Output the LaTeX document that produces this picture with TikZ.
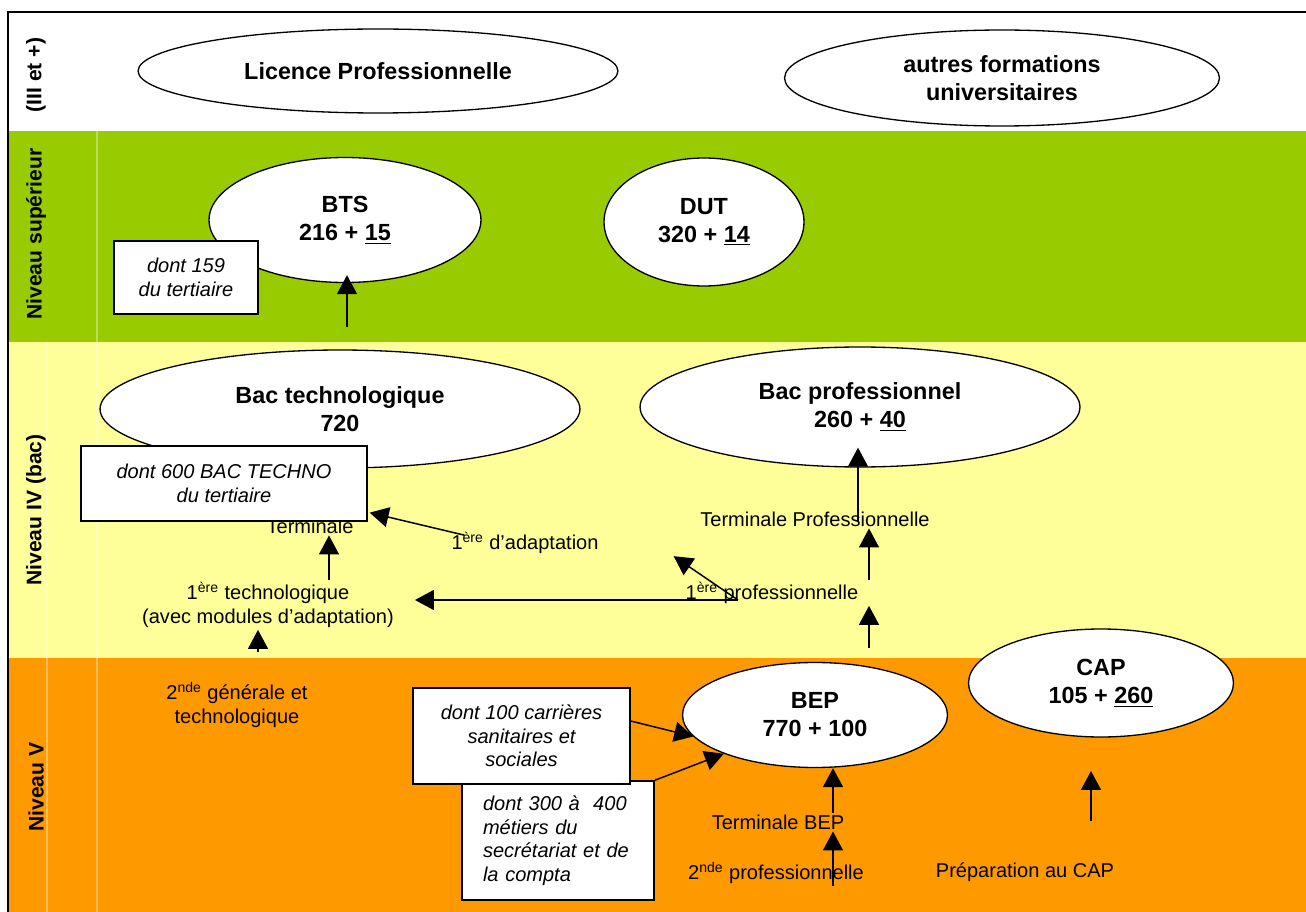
\documentclass[tikz,border=0pt]{standalone}
\usepackage{fontspec}
\setmainfont{Liberation Sans}
\usetikzlibrary{shapes.geometric,arrows.meta}
\definecolor{bandgreen}{HTML}{99CC00}
\definecolor{bandyellow}{HTML}{FFFF99}
\definecolor{bandorange}{HTML}{FF9900}

\begin{document}
\begin{tikzpicture}[
  x=0.02cm, y=-0.02cm,
  formation/.style={draw, ellipse, fill=white, line width=0.75pt, inner sep=0pt, align=center,
    font=\fontsize{13.3}{16}\selectfont\bfseries},
  note/.style={draw, fill=white, line width=0.75pt, inner sep=0pt, align=center,
    font=\fontsize{11.4}{13.4}\selectfont\itshape},
  classe/.style={align=center, inner sep=1pt, font=\fontsize{11.4}{13.7}\selectfont},
  niveau/.style={rotate=90, font=\fontsize{12}{14}\selectfont\bfseries},
  flow/.style={-{Triangle[width=0.4cm,length=0.38cm]}, line width=0.85pt},
  seam/.style={draw=white, opacity=0.35, line width=0.6pt}
  ]
  \useasboundingbox (0,0) rectangle (1306,912);

  % bands
  \fill[bandgreen]  (8,131) rectangle (1306,342);
  \fill[bandyellow] (8,342) rectangle (1306,658);
  \fill[bandorange] (8,658) rectangle (1306,912);
  \draw[seam] (47,342) -- (47,912);
  \draw[seam] (97,131) -- (97,912);
  \draw[line width=1.1pt] (1306,12) -- (8,12) -- (8,912);

  % levels
  \node[niveau] (lvlTop) at (36,75) {(III et +)};
  \node[niveau] (lvlSup) at (36,234) {Niveau supérieur};
  \node[niveau] (lvlBac) at (36,510) {Niveau IV (bac)};
  \node[niveau] (lvlV) at (36,787) {Niveau V};

  % formations
  \node[formation, minimum width=9.6cm, minimum height=1.68cm] (licence) at (378,71) {Licence Professionnelle};
  \node[formation, minimum width=8.7cm, minimum height=1.92cm] (autres) at (1002,78) {autres formations\\universitaires};
  \node[formation, minimum width=5.44cm, minimum height=2.5cm] (bts) at (345,220) {BTS\\216 + \underline{15}};
  \node[formation, minimum width=4cm, minimum height=2.56cm] (dut) at (704,222) {DUT\\320 + \underline{14}};
  \node[formation, minimum width=9.6cm, minimum height=2.36cm] (bacTechno) at (340,409) {Bac technologique\\720};
  \node[formation, minimum width=8.8cm, minimum height=2.4cm] (bacPro) at (860,407) {Bac professionnel\\260 + \underline{40}};
  \node[formation, minimum width=5.3cm, minimum height=2.1cm] (bep) at (815,715) {BEP\\770 + 100};
  \node[formation, minimum width=5.3cm, minimum height=2.16cm] (cap) at (1101,683) {CAP\\105 + \underline{260}};

  % classes
  \node[classe] (termTechno) at (310,526) {Terminale};
  \node[classe] (firstTechno) at (268,605) {1\textsuperscript{ère} technologique\\(avec modules d’adaptation)};
  \node[classe] (firstAdapt) at (525,543) {1\textsuperscript{ère} d’adaptation};
  \node[classe] (termPro) at (815,519) {Terminale Professionnelle};
  \node[classe] (firstPro) at (772,593) {1\textsuperscript{ère} professionnelle};
  \node[classe] (secondGen) at (237,705) {2\textsuperscript{nde} générale et\\technologique};
  \node[classe] (termBEP) at (778,822) {Terminale BEP};
  \node[classe] (secondPro) at (776,873) {2\textsuperscript{nde} professionnelle};
  \node[classe] (prepCAP) at (1025,872) {Préparation au CAP};

  % notes
  \node[note, minimum width=2.88cm, minimum height=1.46cm] (note159) at (186,277.5) {dont 159\\du tertiaire};
  \node[note, minimum width=5.72cm, minimum height=1.5cm] (note600) at (224,483.5) {dont 600 BAC TECHNO\\du tertiaire};
  \node[note, minimum width=3.84cm, minimum height=2.38cm, text width=3cm, align=left] (note300) at (558,840.5)
    {dont 300 à~ 400\\métiers du\\secrétariat et de\\la compta};
  \node[note, minimum width=4.34cm, minimum height=1.92cm] (note100) at (521.5,736) {dont 100 carrières\\sanitaires et\\sociales};

  % arrows
  \coordinate (btsFoot) at (347,327);
  \coordinate (techCol) at (329,0);
  \coordinate (genFoot) at (258,652);
  \coordinate (proCross) at (738,600);
  \coordinate (proCol) at (869,0);
  \coordinate (proFoot) at (869,648);
  \coordinate (bacProCol) at (858,0);
  \coordinate (bepCol) at (833,0);
  \coordinate (capFoot) at (1091,821);
  \coordinate (capTip) at (1091,771);

  \draw[flow, shorten >=-0.16cm] (btsFoot) -- (btsFoot |- bts.south);
  \draw[flow] (firstTechno.north -| techCol) -- (termTechno.south -| techCol);
  \draw[flow] (genFoot) -- (genFoot |- firstTechno.south);
  \draw[flow] ([xshift=0.3cm,yshift=-0.1cm]firstAdapt.north west) -- ([xshift=0.04cm,yshift=0.18cm]note600.south east);
  \draw[flow, shorten >=0.38cm] (proCross) -- (proCross -| firstTechno.east);
  \draw[flow] (proCross) -- ([xshift=-0.2cm,yshift=0.48cm]firstPro.north west);
  \draw[flow] (firstPro.north -| proCol) -- (termPro.south -| proCol);
  \draw[flow] (proFoot) -- (proFoot |- firstPro.south);
  \draw[flow, shorten <=-0.24cm, shorten >=-0.4cm] (termPro.north -| bacProCol) -- (bacPro.south -| bacProCol);
  \draw[flow] ([yshift=0.3cm]note100.east) -- (bep.190);
  \draw[flow] (note300.north east) -- (bep.203);
  \draw[flow] (termBEP.north -| bepCol) -- (bep.south -| bepCol);
  \draw[flow] (secondPro.south -| bepCol) -- (termBEP.south -| bepCol);
  \draw[flow] (capFoot) -- (capTip);
\end{tikzpicture}
\end{document}
